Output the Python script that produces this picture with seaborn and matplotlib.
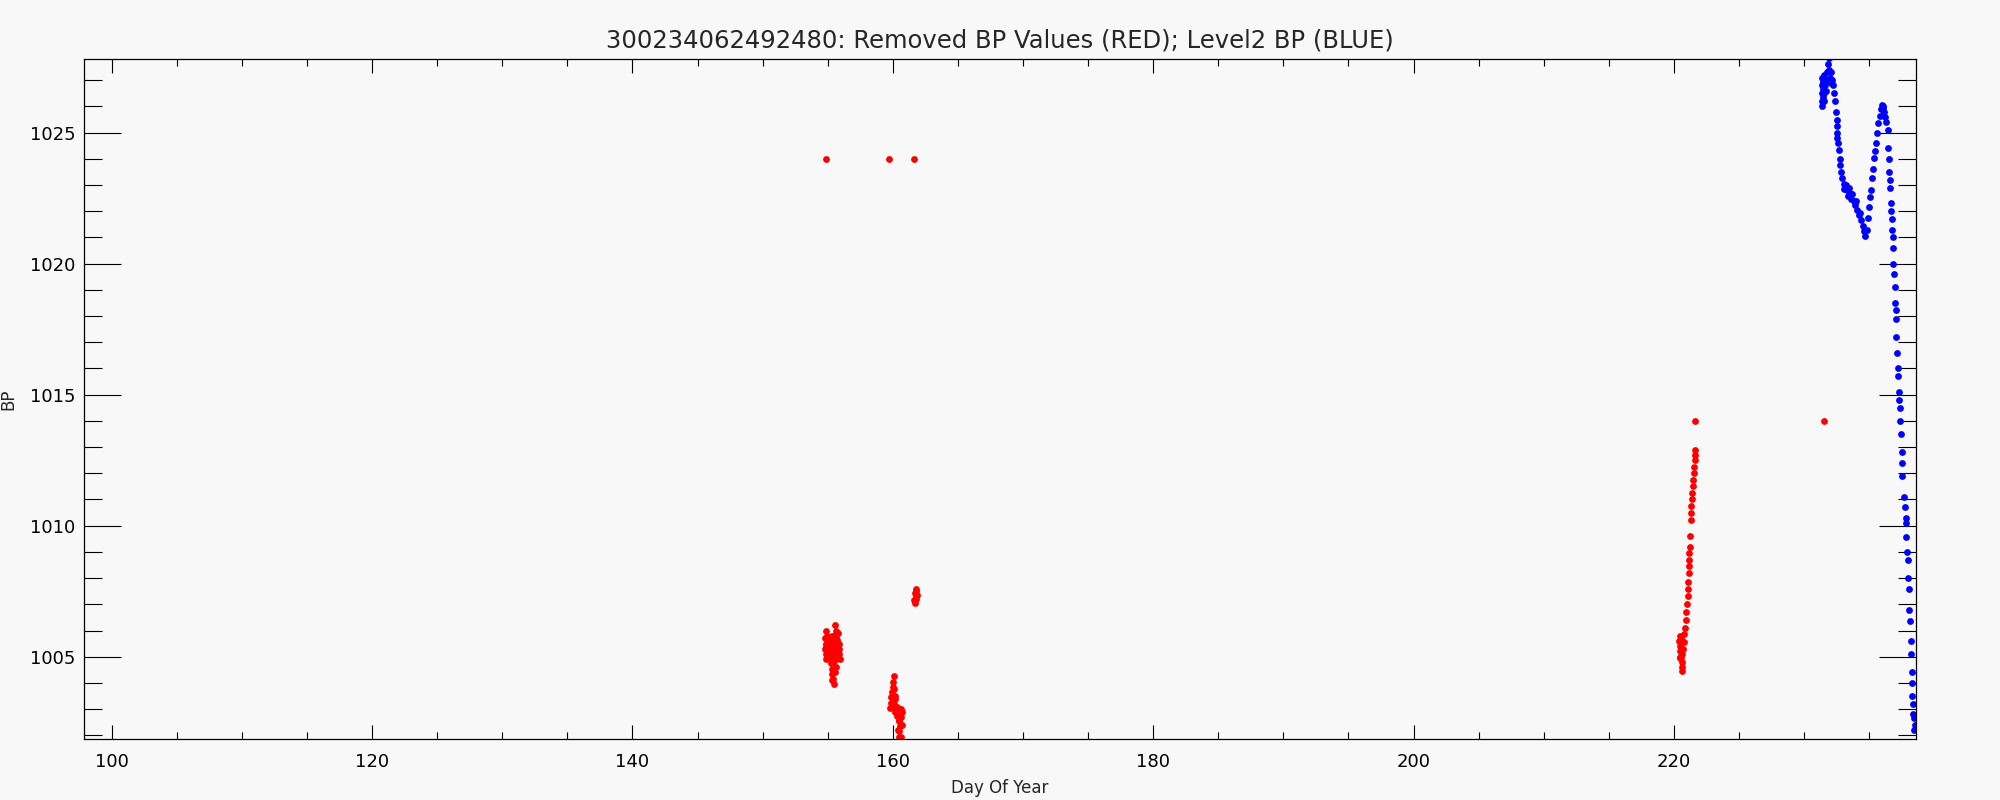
import matplotlib
matplotlib.use('Agg')
import matplotlib.pyplot as plt
import seaborn as sns
import pandas as pd
from matplotlib.ticker import MultipleLocator

title = '300234062492480: Removed BP Values (RED); Level2 BP (BLUE)'

# removed BP values (red)
red_day = [154.87, 159.7, 161.6,
           154.87, 154.8, 154.85, 154.8, 154.85, 154.9, 154.95, 155.0, 155.05, 155.0, 155.1,
           155.15, 155.2, 155.25, 155.2, 155.3, 155.35, 155.4, 155.45, 155.25, 155.3, 155.35,
           155.4, 155.45, 155.5, 155.55, 155.6, 155.65, 155.7, 155.65, 155.7, 155.75, 155.8,
           155.85, 155.9, 155.92, 155.5, 155.45, 155.55, 155.3, 155.6,
           154.9, 155.0, 155.1, 155.2, 155.35, 155.5, 155.6, 155.75, 155.85, 155.4,
           160.1, 160.05, 160.0, 159.95, 159.9, 160.1, 160.15, 159.85, 159.8, 159.95, 160.1,
           160.3, 160.4, 160.35, 160.45, 160.55, 160.5, 160.6, 160.65, 160.7, 160.4, 160.45,
           160.55, 160.2, 160.6, 160.7, 160.0, 160.2, 160.5,
           161.75, 161.7, 161.75, 161.65, 161.8, 161.7, 161.85, 161.8,
           220.45, 220.4, 220.45, 220.5, 220.55, 220.6, 220.6, 220.65, 220.7, 220.75, 220.8,
           220.85, 220.65, 220.5, 220.55, 220.45, 220.9, 220.95, 221.0, 221.05, 221.1, 221.1,
           221.15, 221.15, 221.2, 221.2, 221.22, 221.25, 221.3, 221.35, 221.35, 221.4, 221.42,
           221.45, 221.5, 221.55, 221.55, 221.6, 221.6, 221.62, 221.65,
           231.5]
red_bp = [1024.0, 1024.0, 1024.0,
          1006.0, 1005.7, 1005.5, 1005.3, 1005.1, 1004.9, 1005.8, 1005.6, 1005.4, 1005.2, 1005.0,
          1005.75, 1005.55, 1005.35, 1005.15, 1004.95, 1005.6, 1005.3, 1005.1, 1004.75, 1004.55, 1004.35,
          1004.15, 1003.95, 1004.85, 1006.2, 1006.0, 1005.8, 1005.6, 1005.4, 1005.2, 1005.0, 1005.9,
          1005.5, 1005.1, 1004.9, 1005.5, 1005.8, 1004.4, 1004.1, 1004.6,
          1005.45, 1005.05, 1005.45, 1005.0, 1005.8, 1005.2, 1004.9, 1005.65, 1005.3, 1004.8,
          1004.25, 1004.05, 1003.85, 1003.65, 1003.45, 1003.75, 1003.5, 1003.25, 1003.05, 1003.1, 1003.2,
          1003.1, 1002.95, 1002.75, 1002.55, 1002.35, 1002.15, 1001.95, 1002.7, 1002.4, 1002.2, 1001.95,
          1001.8, 1002.9, 1003.0, 1002.9, 1003.3, 1003.4, 1002.6,
          1007.6, 1007.45, 1007.3, 1007.15, 1007.2, 1007.05, 1007.35, 1007.5,
          1005.8, 1005.6, 1005.4, 1005.2, 1005.0, 1004.8, 1004.6, 1004.45, 1005.3, 1005.55, 1005.85,
          1006.1, 1005.1, 1004.95, 1005.7, 1005.0, 1006.4, 1006.7, 1007.0, 1007.3, 1007.6, 1007.85,
          1008.2, 1008.45, 1008.7, 1008.95, 1009.2, 1009.6, 1010.2, 1010.5, 1010.75, 1011.0, 1011.25,
          1011.5, 1011.75, 1012.0, 1012.25, 1012.5, 1012.7, 1012.9, 1014.0,
          1014.0]

# level2 BP (blue)
blue_day = [231.35, 231.35, 231.35, 231.35, 231.4, 231.45, 231.45, 231.45, 231.5, 231.55,
            231.55, 231.6, 231.65, 231.7, 231.75, 231.85, 231.9, 231.95, 232.0, 232.05,
            232.1, 232.15, 232.2, 232.3, 232.35,
            232.45, 232.5, 232.5, 232.52, 232.55, 232.6, 232.67, 232.75, 232.8, 232.85,
            232.95, 233.05, 233.1, 233.2, 233.3, 233.4, 233.45, 233.55, 233.6, 233.7,
            233.8, 233.9, 234.0, 234.1, 234.2, 234.3, 234.4, 234.5, 234.6, 234.7,
            234.85, 234.9, 235.0, 235.1, 235.15, 235.25, 235.3, 235.4, 235.45, 235.5,
            235.6, 235.7, 235.8, 235.9, 236.0, 236.05, 236.1, 236.15, 236.2, 236.3,
            236.45, 236.48, 236.5, 236.55, 236.58, 236.6, 236.65, 236.7, 236.73, 236.77,
            236.8, 236.83, 236.87, 236.9, 236.95, 237.0, 237.03, 237.05, 237.1, 237.15,
            237.2, 237.23, 237.28, 237.33, 237.36, 237.4, 237.44, 237.5, 237.52, 237.56,
            237.64, 237.72, 237.8, 237.82, 237.87, 237.92, 237.97, 238.0, 238.05, 238.1,
            238.13, 238.18, 238.2, 238.26, 238.28, 238.33, 238.36, 238.4, 238.46, 238.5, 238.46]
blue_bp = [1026.2, 1026.5, 1026.8, 1027.1, 1026.0, 1026.35, 1026.65, 1026.95, 1027.2, 1026.2,
           1026.5, 1026.8, 1027.0, 1026.6, 1027.3, 1027.6, 1027.85, 1027.4, 1027.1, 1026.9,
           1027.3, 1027.0, 1026.8, 1026.5, 1026.2,
           1025.8, 1025.5, 1025.25, 1025.0, 1024.8, 1024.6, 1024.35, 1024.0, 1023.75, 1023.5,
           1023.25, 1023.05, 1022.85, 1023.0, 1022.8, 1022.6, 1022.9, 1022.7, 1022.45, 1022.65,
           1022.4, 1022.25, 1022.4, 1022.05, 1021.85, 1021.95, 1021.65, 1021.45, 1021.25, 1021.05,
           1021.3, 1021.75, 1022.15, 1022.55, 1022.8, 1023.25, 1023.6, 1024.05, 1024.3, 1024.6,
           1025.0, 1025.35, 1025.65, 1025.9, 1026.05, 1025.95, 1026.0, 1025.8, 1025.6, 1025.4,
           1025.1, 1024.4, 1024.0, 1023.5, 1023.2, 1022.9, 1022.3, 1022.0, 1021.7, 1021.3,
           1021.0, 1020.6, 1020.0, 1019.6, 1019.1, 1018.5, 1018.25, 1017.9, 1017.2, 1016.6,
           1016.0, 1015.7, 1015.1, 1014.8, 1014.5, 1014.0, 1013.5, 1012.8, 1012.4, 1011.9,
           1011.1, 1010.7, 1010.3, 1010.1, 1009.55, 1009.0, 1008.7, 1008.0, 1007.6, 1006.8,
           1006.35, 1005.6, 1005.1, 1004.4, 1004.0, 1003.5, 1003.2, 1002.8, 1002.65, 1002.4, 1002.2]

red_df = pd.DataFrame({'day': red_day, 'bp': red_bp})
blue_df = pd.DataFrame({'day': blue_day, 'bp': blue_bp})

sns.set_style('ticks')
plt.rcParams['font.family'] = ['DejaVu Sans']
bg = '#f8f8f8'

fig = plt.figure(figsize=(20, 8), dpi=100, facecolor=bg)
ax = fig.add_axes([0.042, 0.07625, 0.916, 0.85035])
ax.set_facecolor(bg)

sns.scatterplot(data=red_df, x='day', y='bp', color='#ff0000', s=24, linewidth=0, ax=ax)
sns.scatterplot(data=blue_df, x='day', y='bp', color='#0000ff', s=24, linewidth=0, ax=ax)

ax.set_xlim(97.87, 238.6)
ax.set_ylim(1001.86, 1027.82)
ax.xaxis.set_major_locator(MultipleLocator(20))
ax.xaxis.set_minor_locator(MultipleLocator(5))
ax.yaxis.set_major_locator(MultipleLocator(5))
ax.yaxis.set_minor_locator(MultipleLocator(1))

ax.tick_params(axis='both', which='both', direction='in', top=True, right=True,
               colors='black', width=0.8, labelsize=13)
ax.tick_params(axis='x', which='major', length=10.3, pad=10)
ax.tick_params(axis='x', which='minor', length=5.3)
ax.tick_params(axis='y', which='major', length=26.4, pad=6)
ax.tick_params(axis='y', which='minor', length=13.2)

for sp in ax.spines.values():
    sp.set_linewidth(0.9)
    sp.set_color('black')

ax.set_title(title, fontsize=17.5, pad=8)
ax.set_xlabel('Day Of Year', fontsize=12, labelpad=6)
ax.set_ylabel('BP', fontsize=12, labelpad=9)

plt.savefig('out.png', dpi=100, facecolor=bg)
